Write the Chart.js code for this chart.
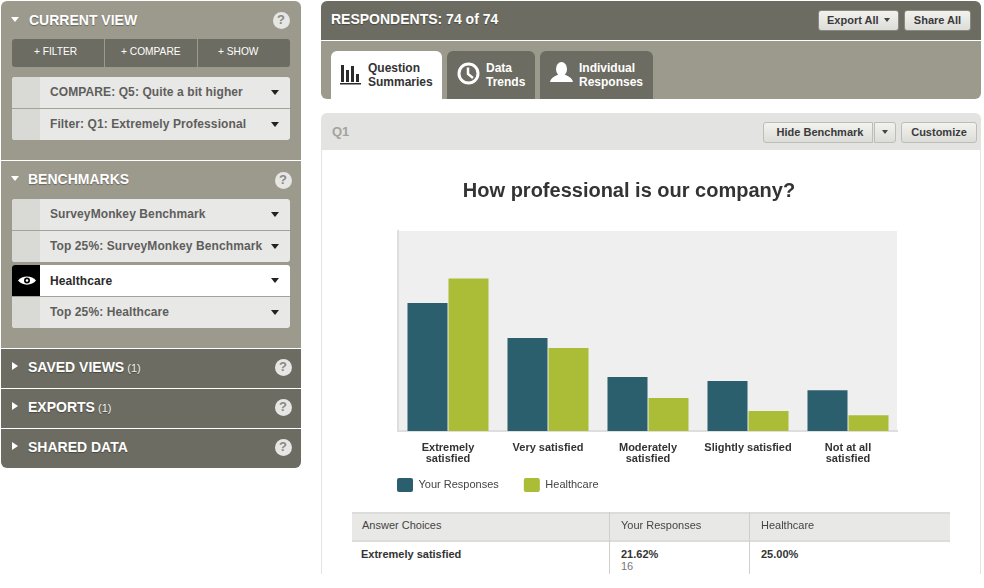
<!DOCTYPE html>
<html><head><meta charset="utf-8">
<style>
html,body{margin:0;padding:0;background:#fff;width:984px;height:588px;overflow:hidden;font-family:"Liberation Sans",Arial,sans-serif;}
#ui div,#ui svg{position:absolute;}
#ui .t{white-space:nowrap;}
#chartBox{position:absolute;left:360px;top:170px;width:538px;height:346px;}
#c{display:block;}
</style>
<script src="https://cdn.jsdelivr.net/npm/chart.js@4/dist/chart.umd.min.js"></script>
</head><body>
<div id="ui"></div>
<div id="chartBox"><canvas id="c" width="538" height="346"></canvas></div>
<script>
const chartTitle = "How professional is our company?";
const categories = [["Extremely","satisfied"],"Very satisfied",["Moderately","satisfied"],"Slightly satisfied",["Not at all","satisfied"]];
const seriesNames = ["Your Responses","Healthcare"];
const yourResponses = [21.0,15.25,8.85,8.2,6.7];
const healthcare = [25.0,13.6,5.4,3.3,2.6];
const seriesColors = ["#2c5f6e","#abbd37"];

const ui=document.getElementById('ui');
function box(x,y,w,h,bg,extra){const d=document.createElement('div');d.style.cssText=`left:${x}px;top:${y}px;width:${w}px;height:${h}px;background:${bg};${extra||''}`;ui.appendChild(d);return d;}
function txt(x,cy,s,size,color,weight,extra){const d=document.createElement('div');d.className='t';d.textContent=s;d.style.cssText=`left:${x}px;top:${cy-10}px;line-height:20px;font-size:${size}px;color:${color};font-weight:${weight||'bold'};${extra||''}`;ui.appendChild(d);return d;}
function svg(x,y,w,h,inner){const n=document.createElement('div');n.style.cssText=`left:${x}px;top:${y}px;width:${w}px;height:${h}px`;n.innerHTML=`<svg width="${w}" height="${h}" viewBox="0 0 ${w} ${h}" style="left:0;top:0">${inner}</svg>`;ui.appendChild(n);}
const LIGHT="#9c9a8d",DARK="#6d6c62",SH="text-shadow:0 1px 1px rgba(0,0,0,.35);";
function tri(x,cy,dir,color,s){s=s||4;const p=dir==='down'?`0,0 ${2*s},0 ${s},${s+1}`:`0,0 ${s+2},${s} 0,${2*s}`;const h=dir==='down'?s+1:2*s,w=dir==='down'?2*s:s+2;svg(x,cy-h/2,w,h,`<polygon points="${p}" fill="${color}"/>`);}
function help(x,cy){box(x-8.5,cy-8.5,17,17,'#e6e6e4','border-radius:50%');const d=txt(x-8.5,cy,'?',13,'#8b8a80');d.style.width='17px';d.style.textAlign='center';}

// sidebar
box(1,1,300,159,LIGHT,'border-radius:6px 6px 0 0');
box(1,161,300,187,LIGHT);
box(1,349,300,39,DARK);
box(1,389,300,39,DARK);
box(1,429,300,39,DARK,'border-radius:0 0 6px 6px');
tri(11,19.5,'down','#fff');txt(29,20,'CURRENT VIEW',14,'#fff','bold',SH);help(281,20);
box(12,39,278,28,DARK,'border-radius:3px');
box(104,39,1,28,'#9c9a8d');box(197,39,1,28,'#9c9a8d');
[[34,'+ FILTER'],[121,'+ COMPARE'],[218,'+ SHOW']].forEach(a=>txt(a[0],51.5,a[1],10.2,'#fff','normal'));
function item(y,h,s,active,rad){
  box(12,y,278,h,active?'#fff':'#e8e8e6',`border-radius:${rad}`);
  box(12,y,28,h,active?'#000':'#d9d9d6',`border-radius:${rad.split(' ')[0]} 0 0 ${rad.split(' ')[3]}`);
  txt(50,active?y+h/2+.5:y+h/2-1,s,12,active?'#2b2b2b':'#5e5e5c','bold','letter-spacing:.1px;');tri(271,y+h/2-0.5,'down','#222');
}
item(77,31,'COMPARE: Q5: Quite a bit higher',false,'3px 3px 0 0');box(12,108,278,1,'#a5a397');
item(109,31,'Filter: Q1: Extremely Professional',false,'0 0 3px 3px');
tri(11,178,'down','#fff');txt(28,179,'BENCHMARKS',14,'#fff','bold',SH);help(283,180);
item(199,31,'SurveyMonkey Benchmark',false,'3px 3px 0 0');box(12,230,278,1,'#a5a397');
item(231,31,'Top 25%: SurveyMonkey Benchmark',false,'0 0 3px 3px');
item(265,31,'Healthcare',true,'3px 3px 0 0');box(12,296,278,1,'#a5a397');
item(297,31,'Top 25%: Healthcare',false,'0 0 3px 3px');
svg(18,274,18,13,'<path d="M0 6.5C4 1 14 1 18 6.5C14 12 4 12 0 6.5Z" fill="#fff"/><circle cx="9" cy="6.5" r="3" fill="#000"/><circle cx="9" cy="6.5" r="1.3" fill="#fff"/>');
function sec(y,s,count,tx){tri(12,y,'right','#fff');const d=txt(28,y+1,s,14,'#fff','bold',SH);
  if(count){const c=document.createElement('span');c.textContent=' '+count;c.style.cssText='font-size:11px;font-weight:normal;color:#f0f0ee;margin-left:0';d.appendChild(c);}
  help(283,y+1);}
sec(366,'SAVED VIEWS','(1)');sec(406,'EXPORTS','(1)');sec(446,'SHARED DATA','');

// top panel
box(321,1,660,39,DARK,'border-radius:6px 6px 0 0');
box(321,41,660,58,LIGHT,'border-radius:0 0 6px 6px');
txt(331,19,'RESPONDENTS: 74 of 74',14,'#fff','bold',SH);
function btn(x,y,w,h,s,size,rad){const d=box(x,y,w-2,h-2,'linear-gradient(#f2f2ef,#dcdcd8)',`border:1px solid ${y<50?'#8a8980':'#bdbdb8'};border-radius:${rad||'3px'};text-align:center;line-height:${h-2}px;font-size:${size}px;font-weight:bold;color:#3a3a3a;white-space:nowrap;`);d.textContent=s;return d;}
const ex=btn(818,10,81,21,'',11);txt(827,20,'Export All',11,'#3a3a3a');tri(884,20,'down','#444',3);
btn(904,10,67,21,'Share All',11);
// tabs
box(331,51,111,48,'#fff','border-radius:6px 6px 0 0');
box(447,51,88,48,DARK,'border-radius:6px 6px 0 0');
box(540,51,113,48,DARK,'border-radius:6px 6px 0 0');
txt(368,68,'Question',12,'#333');txt(368,82,'Summaries',12,'#333');
txt(486,68,'Data',12,'#fff','bold');txt(486,82,'Trends',12,'#fff','bold');
txt(579,68,'Individual',12,'#fff','bold');txt(579,82,'Responses',12,'#fff','bold');
svg(340,64,21,21,'<rect x="1" y="1" width="3" height="17" fill="#2b2b2b"/><rect x="6" y="6" width="3" height="12" fill="#2b2b2b"/><rect x="11" y="2" width="3" height="16" fill="#2b2b2b"/><rect x="16" y="10" width="3" height="8" fill="#2b2b2b"/><rect x="0" y="19" width="21" height="1.5" fill="#2b2b2b"/>');
svg(457,62,23,23,'<circle cx="11.5" cy="11.5" r="9.5" fill="none" stroke="#fff" stroke-width="3"/><path d="M11 5.5V12L16 16" fill="none" stroke="#fff" stroke-width="2.5"/>');
svg(550,62,23,20,'<ellipse cx="11.5" cy="7" rx="5.5" ry="7" fill="#fff"/><path d="M0 20C1 15 6 14 9 12H14C17 14 22 15 23 20Z" fill="#fff"/>');

// question card
box(321,113,660,37,'#e3e3e1','border-radius:6px 6px 0 0');
box(321,150,1,424,'#e3e3e1');box(980,150,1,424,'#e3e3e1');
txt(332,132,'Q1',13,'#a3a3a0');
const hb=btn(763,122,110,21,'Hide Benchmark',11,'3px 0 0 3px');hb.style.textIndent='4px';
btn(874,122,22,21,'',11,'0 3px 3px 0');tri(882,132,'down','#444',3);
btn(901,122,76,21,'Customize',11);

// table
const tableRow = ["Extremely satisfied","21.62%","16","25.00%"];
const tableHead = ["Answer Choices",seriesNames[0],seriesNames[1]];
box(352,512,598,30,'#e8e8e6','border-top:2px solid #dcdcda;border-bottom:2px solid #dcdcda;box-sizing:border-box;z-index:2');
box(609,512,1,62,'#cfcfcd','z-index:3');box(749,512,1,62,'#cfcfcd','z-index:3');
[[362,tableHead[0]],[621,tableHead[1]],[761,tableHead[2]]].forEach(a=>txt(a[0],525,a[1],11,'#444','normal','z-index:3'));
tri(932,525,'down','#cfcfcd',3.5);
txt(361,554,tableRow[0],11,'#333');txt(621,554,tableRow[1],11,'#333');txt(621,566,tableRow[2],11,'#777','normal');txt(761,554,tableRow[3],11,'#333');

// chart
const plotBg={id:'plotBg',beforeDraw(ch){const a=ch.chartArea,g=ch.ctx;g.save();g.fillStyle='#efefef';g.fillRect(a.left-1,a.top,a.width,a.height);g.restore();},
  afterLayout(ch){ch.legend.left=12;ch.legend.top=283;}};
new Chart(document.getElementById('c'),{
  type:'bar',
  data:{labels:categories,datasets:[
    {label:seriesNames[0],data:yourResponses,backgroundColor:seriesColors[0]},
    {label:seriesNames[1],data:healthcare,backgroundColor:seriesColors[1]}]},
  options:{
    responsive:false,animation:false,devicePixelRatio:1,
    layout:{padding:0},
    categoryPercentage:0.82,barPercentage:0.976,
    scales:{
      x:{grid:{display:false,drawTicks:false},border:{display:true,color:'#dedede',width:2},
        ticks:{maxRotation:0,autoSkip:false,padding:11,color:'#333',font:{family:'"Liberation Sans"',size:11,weight:'bold',lineHeight:1.05}},
        afterFit(s){s.height=36;}},
      y:{min:0,max:32.8,grid:{display:false,drawTicks:false},border:{display:true,color:'#dedede',width:2},
        ticks:{display:false},afterFit(s){s.width=38;}}
    },
    plugins:{
      tooltip:{enabled:false},
      title:{display:true,text:chartTitle,color:'#333',padding:{top:9,bottom:28},font:{family:'"Liberation Sans"',size:20,weight:'bold',lineHeight:1.2}},
      legend:{display:true,position:'bottom',align:'start',labels:{boxWidth:16,boxHeight:14,padding:25,color:'#444',useBorderRadius:true,borderRadius:2,font:{family:'"Liberation Sans"',size:11}}}
    }
  },
  plugins:[plotBg]
});
</script>
</body></html>
